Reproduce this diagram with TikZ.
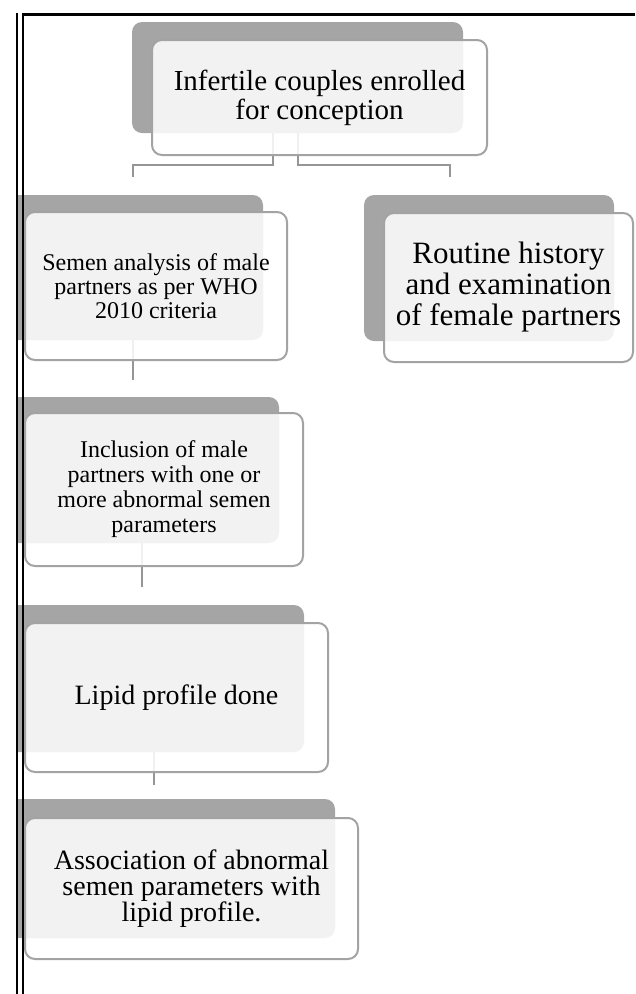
\documentclass[tikz,border=0pt]{standalone}
\usepackage{fontspec}
\setmainfont{Liberation Serif}
\usetikzlibrary{positioning}
\definecolor{shadegray}{HTML}{A5A5A5}
\definecolor{edgegray}{HTML}{A3A3A3}
\definecolor{linkgray}{HTML}{969696}

\begin{document}
\begin{tikzpicture}[x=1pt, y=-1pt,
    backcard/.style={fill=shadegray, rounded corners=10pt, inner sep=0pt},
    frontcard/.style={draw=edgegray, line width=2pt, fill=white, fill opacity=0.86, text opacity=1,
      rounded corners=10pt, inner sep=0pt, align=center},
    link/.style={draw=linkgray, line width=2pt}]
    \useasboundingbox (0,0) rectangle (635,994);
    \begin{scope}
      \clip (17,0) rectangle (635,994);
      \node[backcard, minimum width=331pt, minimum height=111pt] (couplesbk) at (297.5,77.5) {};
      \node[backcard, minimum width=260pt, minimum height=145pt] (semenbk) at (133,267.5) {};
      \node[backcard, minimum width=250pt, minimum height=146pt] (femalebk) at (489,268) {};
      \node[backcard, minimum width=274pt, minimum height=146pt] (inclusionbk) at (142,470) {};
      \node[backcard, minimum width=300pt, minimum height=147pt] (lipidbk) at (154,678.5) {};
      \node[backcard, minimum width=330pt, minimum height=139pt] (assocbk) at (170,868.5) {};
    \end{scope}
    \draw[link] ([xshift=-25pt]couplesbk.south) |- ([yshift=30pt]semenbk.north) -- ([yshift=18pt]semenbk.north);
    \draw[link] (couplesbk.south) |- ([xshift=-39pt, yshift=30pt]femalebk.north) -- ([xshift=-39pt, yshift=18pt]femalebk.north);
    \draw[link, shorten >=17pt] (semenbk.south) -- (semenbk.south |- inclusionbk.north);
    \draw[link, shorten >=18pt] (inclusionbk.south) -- (inclusionbk.south |- lipidbk.north);
    \draw[link, shorten >=14pt] (lipidbk.south) -- (lipidbk.south |- assocbk.north);
    \node[frontcard, minimum width=335pt, minimum height=115pt, font={\fontsize{29pt}{29pt}\selectfont}] (couples) at (319.5,97.5) {Infertile couples enrolled\\for conception};
    \node[frontcard, minimum width=262pt, minimum height=148pt, font={\fontsize{24pt}{24pt}\selectfont}] (semen) at (156,286) {Semen analysis of male\\partners as per WHO\\2010 criteria};
    \node[frontcard, minimum width=249pt, minimum height=149pt, font={\fontsize{31pt}{31pt}\selectfont}] (female) at (508.5,287.5) {Routine history\\and examination\\of female partners};
    \node[frontcard, minimum width=278pt, minimum height=153pt, font={\fontsize{24pt}{25pt}\selectfont}] (inclusion) at (164,489.5) {Inclusion of male\\partners with one or\\more abnormal semen\\parameters};
    \node[frontcard, minimum width=303pt, minimum height=149pt, font={\fontsize{28pt}{28pt}\selectfont}] (lipid) at (176.5,697.5) {Lipid profile done};
    \node[frontcard, minimum width=333pt, minimum height=141pt, font={\fontsize{28pt}{26pt}\selectfont}] (assoc) at (191.5,888.5) {Association of abnormal\\semen parameters with\\lipid profile.};
    \draw[line width=2pt] (17,12.7) -- (17,994);
    \draw[line width=2pt] (23,12.7) -- (23,994);
    \draw[line width=2.7pt] (22,14.3) -- (635,14.3);
  \end{tikzpicture}
\end{document}
